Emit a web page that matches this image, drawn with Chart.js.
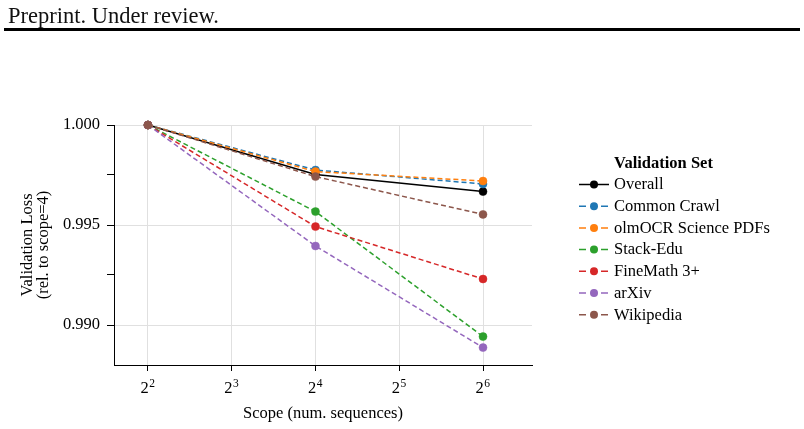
<!DOCTYPE html>
<html>
<head>
<meta charset="utf-8">
<script src="https://cdn.jsdelivr.net/npm/chart.js@4/dist/chart.umd.min.js"></script>
<style>
html,body{margin:0;padding:0;background:#fff;}
#wrap{position:relative;width:804px;height:429px;overflow:hidden;}
#hdr{position:absolute;left:8px;top:2px;font-family:"Liberation Serif",serif;font-size:22.5px;line-height:27px;color:#111;white-space:nowrap;}
#rule{position:absolute;left:4px;top:28px;width:796px;height:3px;background:#000;}
canvas{position:absolute;left:0;top:0;}
</style>
</head>
<body>
<div id="wrap">
<canvas id="c" width="804" height="429"></canvas>
<div id="hdr">Preprint. Under review.</div>
<div id="rule"></div>
</div>
<script>
// ---- data ----
const scopes = [4, 16, 64];
const seriesNames = ['Overall', 'Common Crawl', 'olmOCR Science PDFs', 'Stack-Edu', 'FineMath 3+', 'arXiv', 'Wikipedia'];
const overall     = [1.0, 0.99753, 0.99667];
const commonCrawl = [1.0, 0.99775, 0.99705];
const olmocr      = [1.0, 0.99767, 0.99720];
const stackEdu    = [1.0, 0.99567, 0.98942];
const fineMath    = [1.0, 0.99492, 0.99230];
const arxiv       = [1.0, 0.99395, 0.98887];
const wikipedia   = [1.0, 0.99742, 0.99553];
const xTicks = [4, 8, 16, 32, 64];
const xTickBase = '2';
const xTickExponents = ['2', '3', '4', '5', '6'];
const yTicks = [0.99, 0.9925, 0.995, 0.9975, 1.0];
const yTickLabels = ['0.990', '', '0.995', '', '1.000'];
const legendTitle = 'Validation Set';
const xTitle = 'Scope (num. sequences)';
const yTitle = ['Validation Loss', '(rel. to scope=4)'];

// ---- styles ----
const seriesValues = [overall, commonCrawl, olmocr, stackEdu, fineMath, arxiv, wikipedia];
const colors = ['#000000', '#1f77b4', '#ff7f0e', '#2ca02c', '#d62728', '#9467bd', '#8c564b'];
const FONT = '"Liberation Serif", serif';
const FS = 16.5;

const datasets = seriesNames.map((name, i) => ({
  label: name,
  data: scopes.map((x, j) => ({ x: x, y: seriesValues[i][j] })),
  borderColor: colors[i],
  backgroundColor: colors[i],
  borderWidth: 1.5,
  borderDash: i === 0 ? [] : [5, 3],
  pointRadius: 4,
  pointHoverRadius: 4,
  pointBorderWidth: 0.5,
  pointBorderColor: colors[i],
  pointBackgroundColor: colors[i],
  tension: 0,
  clip: false,
  order: seriesNames.length - 1 - i
}));

// power-of-two tick labels with a raised exponent, placed by the x scale
const powerTicks = {
  id: 'powerTicks',
  afterDraw(chart) {
    const ctx = chart.ctx;
    const sx = chart.scales.x;
    ctx.save();
    ctx.fillStyle = '#000';
    ctx.textBaseline = 'alphabetic';
    xTicks.forEach((v, i) => {
      const px = sx.getPixelForValue(v);
      ctx.font = FS + 'px ' + FONT;
      ctx.textAlign = 'right';
      ctx.fillText(xTickBase, px + 0.8, 393);
      ctx.font = '11.5px ' + FONT;
      ctx.textAlign = 'left';
      ctx.fillText(xTickExponents[i], px + 1.3, 387);
    });
    ctx.restore();
  }
};

const sideLegend = {
  id: 'sideLegend',
  afterDraw(chart) {
    const ctx = chart.ctx;
    ctx.save();
    ctx.textBaseline = 'middle';
    ctx.textAlign = 'left';
    ctx.fillStyle = '#000';
    ctx.font = 'bold ' + FS + 'px ' + FONT;
    ctx.fillText(legendTitle, 614, 164);
    ctx.font = FS + 'px ' + FONT;
    chart.data.datasets.forEach((ds, i) => {
      const y = 184.5 + i * 21.7;
      ctx.strokeStyle = ds.borderColor;
      ctx.lineWidth = 1.5;
      ctx.setLineDash([]);
      ctx.beginPath();
      if (ds.borderDash && ds.borderDash.length) {
        ctx.moveTo(579, y); ctx.lineTo(586, y);
        ctx.moveTo(601, y); ctx.lineTo(608, y);
      } else {
        ctx.moveTo(579, y); ctx.lineTo(609, y);
      }
      ctx.stroke();
      ctx.fillStyle = ds.backgroundColor;
      ctx.beginPath();
      ctx.arc(594, y, 4, 0, Math.PI * 2);
      ctx.fill();
      ctx.fillStyle = '#000';
      ctx.fillText(ds.label, 614, y + 0.5);
    });
    ctx.restore();
  }
};

new Chart(document.getElementById('c'), {
  type: 'line',
  data: { datasets: datasets },
  plugins: [sideLegend, powerTicks],
  options: {
    responsive: false,
    animation: false,
    events: [],
    layout: { padding: { top: 125, right: 272, bottom: 0, left: 0 } },
    plugins: { legend: { display: false }, tooltip: { enabled: false } },
    scales: {
      x: {
        type: 'logarithmic',
        position: 'bottom',
        min: 3.02,
        max: 96,
        bounds: 'data',
        afterBuildTicks: s => { s.ticks = xTicks.map(v => ({ value: v })); },
        afterFit: s => { s.height = 64; },
        ticks: {
          callback: () => '',
          font: { family: FONT, size: FS },
          color: '#000',
          padding: 3,
          maxRotation: 0,
          autoSkip: false
        },
        grid: { color: '#e0e0e0', lineWidth: 1, tickColor: '#000', tickLength: 6, tickWidth: 1 },
        border: { color: '#000', width: 1 },
        title: { display: true, text: xTitle, color: '#000', font: { family: FONT, size: FS, lineHeight: 1.2 }, padding: { top: 0, bottom: 5 } }
      },
      y: {
        type: 'linear',
        min: 0.988,
        max: 1.0,
        afterBuildTicks: s => { s.ticks = yTicks.map(v => ({ value: v })); },
        afterFit: s => { s.width = 114; },
        ticks: {
          callback: (v, i) => yTickLabels[i],
          font: { family: FONT, size: FS },
          color: '#000',
          padding: 7,
          autoSkip: false
        },
        grid: {
          color: c => (yTickLabels[c.index] ? '#e0e0e0' : 'rgba(0,0,0,0)'),
          lineWidth: 1,
          tickColor: '#000',
          tickLength: 7,
          tickWidth: 1
        },
        border: { color: '#000', width: 1 },
        title: { display: true, text: yTitle, color: '#000', font: { family: FONT, size: FS, lineHeight: 1 }, padding: { top: 19, bottom: 0 } }
      }
    }
  }
});
</script>
</body>
</html>
